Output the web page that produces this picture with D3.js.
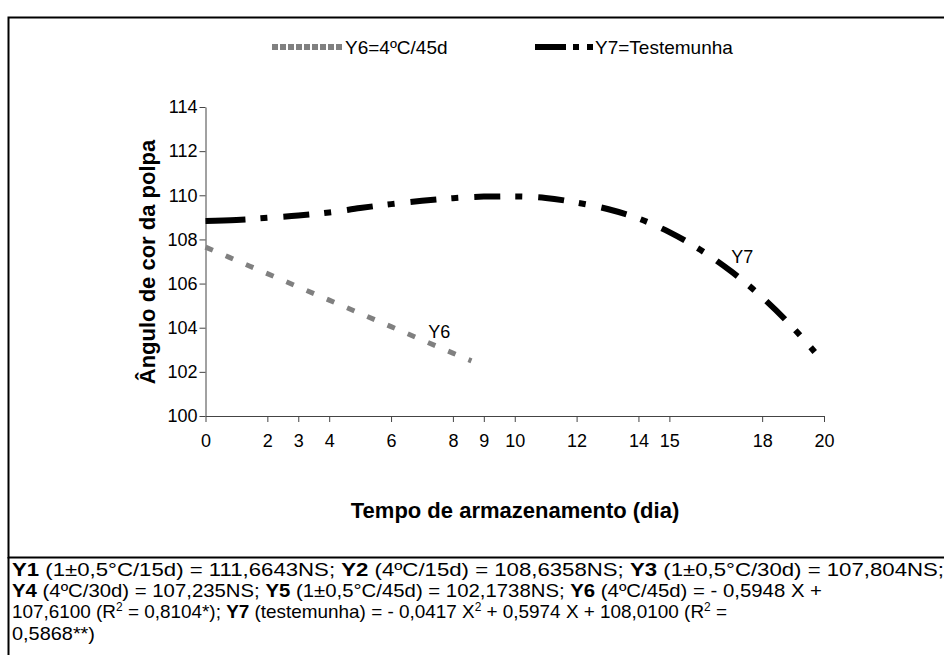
<!DOCTYPE html>
<html lang="pt">
<head>
<meta charset="UTF-8">
<script src="https://d3js.org/d3.v7.min.js"></script>
<style>
  body { margin: 0; background: #fff; }
  svg { display: block; font-family: "Liberation Sans", Arial, sans-serif; }
</style>
</head>
<body>
<svg id="chart" width="944" height="655"></svg>
<script>
// ticks
const xTicks = [0, 2, 3, 4, 6, 8, 9, 10, 12, 14, 15, 18, 20];
const yTicks = [100, 102, 104, 106, 108, 110, 112, 114];

// Y6 = 4ºC/45d
const y6Days = [0, 2, 4, 6, 8, 8.6];
const y6Values = [107.65, 106.45, 105.25, 104.05, 102.85, 102.5];

// Y7 = Testemunha
const y7Days = [0, 1, 2, 3, 4, 5, 6, 7, 8, 9, 10, 11, 12, 13, 14, 15, 16, 17, 18, 19, 19.7];
const y7Values = [108.83, 108.88, 108.98, 109.08, 109.22, 109.42, 109.6, 109.75, 109.87, 109.94,
  109.95, 109.88, 109.67, 109.38, 108.95, 108.33, 107.53, 106.55, 105.38, 104.0, 102.9];

const svg = d3.select("#chart");

// outer frame + footer box
svg.append("rect")
  .attr("x", 8.5).attr("y", 17.5).attr("width", 960).attr("height", 540)
  .attr("fill", "none").attr("stroke", "#000").attr("stroke-width", 2);
svg.append("line")
  .attr("x1", 8.5).attr("x2", 8.5).attr("y1", 557).attr("y2", 655)
  .attr("stroke", "#000").attr("stroke-width", 2);

const x = d3.scaleLinear().domain([0, 20]).range([205.5, 824]);
const y = d3.scaleLinear().domain([100, 114]).range([416, 107]);

// axes
const xAxis = svg.append("g")
  .attr("transform", `translate(0,${y(100)})`)
  .call(d3.axisBottom(x).tickValues(xTicks).tickSize(6).tickPadding(12).tickSizeOuter(0));
const yAxis = svg.append("g")
  .attr("transform", `translate(${x(0)},0)`)
  .call(d3.axisLeft(y).tickValues(yTicks).tickSize(6).tickPadding(2).tickSizeOuter(0));

[xAxis, yAxis].forEach(g => {
  g.select(".domain").attr("stroke", "#444");
  g.selectAll(".tick line").attr("stroke", "#444");
  g.selectAll(".tick text")
    .attr("fill", "#000")
    .style("font-family", "Liberation Sans, Arial, sans-serif")
    .style("font-size", "18px");
});

// axis titles
svg.append("text")
  .attr("x", 515).attr("y", 518)
  .attr("text-anchor", "middle")
  .style("font-size", "22px").style("font-weight", "bold")
  .text("Tempo de armazenamento (dia)");
svg.append("text")
  .attr("transform", "translate(155,262) rotate(-90)")
  .attr("text-anchor", "middle")
  .style("font-size", "22px").style("font-weight", "bold")
  .text("Ângulo de cor da polpa");

// lines
const line = d3.line()
  .x(d => x(d[0]))
  .y(d => y(d[1]))
  .curve(d3.curveMonotoneX);

svg.append("path")
  .datum(y6Days.map((d, i) => [d, y6Values[i]]))
  .attr("d", line)
  .attr("fill", "none")
  .attr("stroke", "#808080")
  .attr("stroke-width", 5)
  .attr("stroke-dasharray", "8,14");

svg.append("path")
  .datum(y7Days.map((d, i) => [d, y7Values[i]]))
  .attr("d", line)
  .attr("fill", "none")
  .attr("stroke", "#000")
  .attr("stroke-width", 6)
  .attr("stroke-dasharray", "40,15,7,16" + ",26,15,7,16".repeat(12));

// curve labels
svg.append("text")
  .attr("x", x(7.2)).attr("y", y(103.55))
  .style("font-size", "18px")
  .text("Y6");
svg.append("text")
  .attr("x", x(17)).attr("y", y(106.95))
  .style("font-size", "18px")
  .text("Y7");

// legend
const legend = svg.append("g");
legend.append("line")
  .attr("x1", 272).attr("x2", 344).attr("y1", 47).attr("y2", 47)
  .attr("stroke", "#808080").attr("stroke-width", 6)
  .attr("stroke-dasharray", "6,2");
legend.append("text")
  .attr("x", 345).attr("y", 54)
  .style("font-size", "19px")
  .text("Y6=4ºC/45d");
legend.append("line")
  .attr("x1", 535).attr("x2", 593).attr("y1", 47).attr("y2", 47)
  .attr("stroke", "#000").attr("stroke-width", 6)
  .attr("stroke-dasharray", "31,7,6,8,6");
legend.append("text")
  .attr("x", 595).attr("y", 54)
  .style("font-size", "19px")
  .text("Y7=Testemunha");

// footer text (equations): [text, bold, superscript]
const footer = [
  [["Y1", true], [" (1±0,5°C/15d) = 111,6643NS; ", false], ["Y2", true], [" (4ºC/15d) = 108,6358NS; ", false], ["Y3", true], [" (1±0,5°C/30d) = 107,804NS;", false]],
  [["Y4", true], [" (4ºC/30d) = 107,235NS; ", false], ["Y5", true], [" (1±0,5°C/45d) = 102,1738NS; ", false], ["Y6", true], [" (4ºC/45d) = - 0,5948 X +", false]],
  [["107,6100 (R", false], ["2", false, true], [" = 0,8104*); ", false], ["Y7", true], [" (testemunha) = - 0,0417 X", false], ["2", false, true], [" + 0,5974 X + 108,0100 (R", false], ["2", false, true], [" =", false]],
  [["0,5868**)", false]]
];
const footerY = [576, 597, 618, 640];
const footerWidth = [932, 810, 715, 83];

footer.forEach((parts, i) => {
  const t = svg.append("text")
    .attr("x", 12).attr("y", footerY[i])
    .attr("textLength", footerWidth[i])
    .attr("lengthAdjust", "spacingAndGlyphs")
    .style("font-size", "19px");
  parts.forEach((p, j) => {
    const s = t.append("tspan").text(p[0]);
    if (p[1]) s.style("font-weight", "bold");
    if (p[2]) s.attr("dy", -7).style("font-size", "12px");
    else if (j > 0 && parts[j - 1][2]) s.attr("dy", 7);
  });
});
</script>
</body>
</html>
